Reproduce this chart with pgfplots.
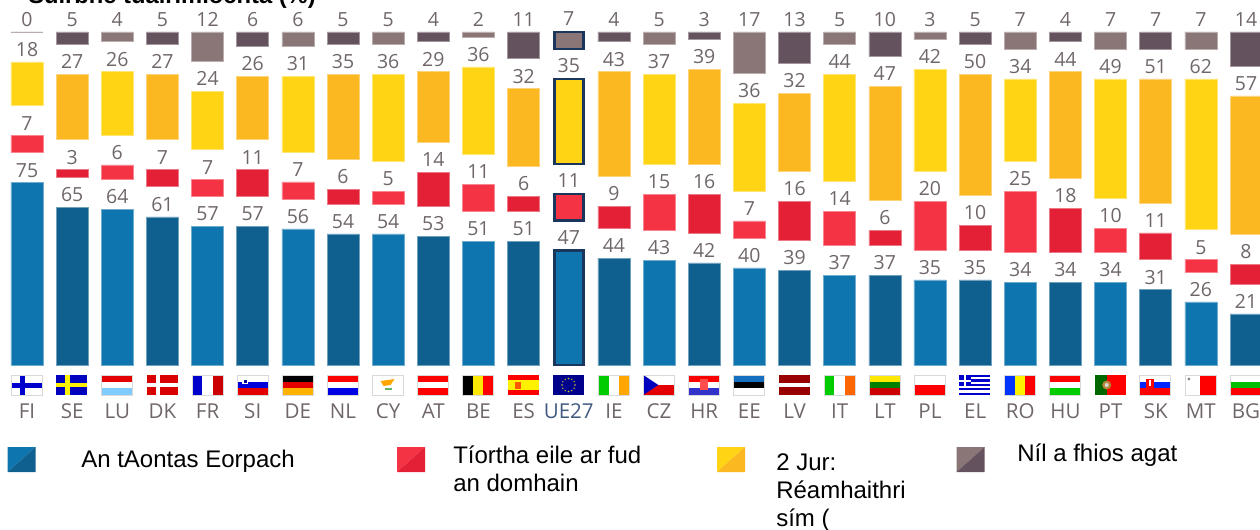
\documentclass[border=0pt]{standalone}
\usepackage{pgfplots}
\usepackage{pgfplotstable}
\usepackage{fontspec}
\pgfplotsset{compat=1.18}
\setmainfont{Liberation Sans}
\newfontfamily\lab{Open Sans}
\definecolor{bluL}{HTML}{0F75AE}\definecolor{bluD}{HTML}{10608F}
\definecolor{redL}{HTML}{F43345}\definecolor{redD}{HTML}{E32035}
\definecolor{yelL}{HTML}{FFD414}\definecolor{yelD}{HTML}{FBB820}
\definecolor{gryL}{HTML}{8A7677}\definecolor{gryD}{HTML}{64535E}
\definecolor{navy}{HTML}{1B365D}\definecolor{txt}{HTML}{6F6668}
\definecolor{tickn}{HTML}{3F5A80}
\pgfplotstableread{
i  blue red yel gry gap
0  75 7  18 0  12.35
2  64 6  26 4  12.35
4  57 7  24 12 12.35
6  56 7  31 6  12.35
8  54 5  36 5  12.35
10 51 11 36 2  12.35
14 43 15 37 5  12.35
16 40 7  36 17 12.35
18 37 14 44 5  12.35
20 35 20 42 3  12.35
22 34 25 34 7  12.35
24 34 10 49 7  12.35
26 26 5  62 7  12.35
}\tableeven
\pgfplotstableread{
i  blue red yel gry gap
1  65 3  27 5  12.35
3  61 7  27 5  12.35
5  57 11 26 6  12.35
7  54 6  35 5  12.35
9  53 14 29 4  12.35
11 51 6  32 11 12.35
13 44 9  43 4  12.35
15 42 16 39 3  12.35
17 39 16 32 13 12.35
19 37 6  47 10 12.35
21 35 10 50 5  12.35
23 34 18 44 4  12.35
25 31 11 51 7  12.35
27 21 8  57 14 12.35
}\tableodd
\pgfplotstableread{
i  blue red yel gry gap
12 47 11 35 7  12.35
}\tableue
\pgfplotsset{
  base/.style={
    at={(0pt,-273.75pt)},anchor=south west,
    scale only axis,width=945pt,height=273.75pt,
    xmin=-0.598,xmax=27.31,ymin=0,ymax=150.2,
    ybar stacked,stacked ignores zero=false,bar width=24pt,
    axis line style={draw=none},tick style={draw=none},
    ytick=\empty,xtick=\empty,
    /pgf/number format/assume math mode=true,
    every node near coord/.append style={font=\lab\fontsize{14.6}{16}\selectfont,text=txt,anchor=south,inner sep=0pt,yshift=\h*0.9113pt+3.9pt},
  },
  vis/.style 2 args={fill=#1,draw=#1!60,line width=0.4pt,visualization depends on={\thisrow{#2}\as\h},nodes near coords},
  eub/.style 2 args={fill=#1,draw=navy,line width=2.1pt,visualization depends on={\thisrow{#2}\as\h},nodes near coords},
  gapb/.style={draw=none,fill=none,forget plot},
}
\newcommand{\frameflag}[1]{\draw[black!15,line width=0.6pt] (#1,375) rectangle +(31,20);}
\newcommand{\hflag}[4]{%
  \fill[#2] (#1,375) rectangle +(31,6.67);\fill[#3] (#1,381.67) rectangle +(31,6.67);\fill[#4] (#1,388.33) rectangle +(31,6.67);\frameflag{#1}}
\newcommand{\vflag}[4]{%
  \fill[#2] (#1,375) rectangle +(10.33,20);\fill[#3] (#1+10.33,375) rectangle +(10.33,20);\fill[#4] (#1+20.67,375) rectangle +(10.33,20);\frameflag{#1}}
\newcommand{\swatch}[3]{%
  \fill[#2] (#1,447) -- (#1+28,447) -- (#1,472) -- cycle;
  \fill[#3] (#1+28,447) -- (#1+28,472) -- (#1,472) -- cycle;}
\begin{document}
\begin{tikzpicture}
\useasboundingbox (0,0) rectangle (945pt,-396.75pt);
\clip (0,0) rectangle (945pt,-396.75pt);
\begin{axis}[base,
  xtick={0,...,27},
  xticklabels={FI,SE,LU,DK,FR,SI,DE,NL,CY,AT,BE,ES,\textcolor{tickn}{UE27},IE,CZ,HR,EE,LV,IT,LT,PL,EL,RO,HU,PT,SK,MT,BG},
  xticklabel style={font=\lab\fontsize{15.4}{17}\selectfont,text=txt,anchor=base,yshift=-40.2pt,inner sep=0pt},
]
\addplot[vis={bluL}{blue}] table[x=i,y=blue]{\tableeven};
\addplot[gapb] table[x=i,y=gap]{\tableeven};
\addplot[vis={redL}{red}] table[x=i,y=red]{\tableeven};
\addplot[gapb] table[x=i,y=gap]{\tableeven};
\addplot[vis={yelL}{yel}] table[x=i,y=yel]{\tableeven};
\addplot[gapb] table[x=i,y=gap]{\tableeven};
\addplot[vis={gryL}{gry}] table[x=i,y=gry]{\tableeven};
\end{axis}
\begin{axis}[base]
\addplot[vis={bluD}{blue}] table[x=i,y=blue]{\tableodd};
\addplot[gapb] table[x=i,y=gap]{\tableodd};
\addplot[vis={redD}{red}] table[x=i,y=red]{\tableodd};
\addplot[gapb] table[x=i,y=gap]{\tableodd};
\addplot[vis={yelD}{yel}] table[x=i,y=yel]{\tableodd};
\addplot[gapb] table[x=i,y=gap]{\tableodd};
\addplot[vis={gryD}{gry}] table[x=i,y=gry]{\tableodd};
\end{axis}
\begin{axis}[base,bar width=21.9pt]
\addplot[eub={bluL}{blue}] table[x=i,y=blue]{\tableue};
\addplot[gapb] table[x=i,y=gap]{\tableue};
\addplot[eub={redL}{red}] table[x=i,y=red]{\tableue};
\addplot[gapb] table[x=i,y=gap]{\tableue};
\addplot[eub={yelL}{yel}] table[x=i,y=yel]{\tableue};
\addplot[gapb] table[x=i,y=gap]{\tableue};
\addplot[eub={gryL}{gry}] table[x=i,y=gry]{\tableue};
\end{axis}
\begin{scope}[x=0.75pt,y=-0.75pt]
\node[anchor=base west,inner sep=0pt,font=\bfseries\fontsize{17.8}{20}\selectfont] at (28,3.5) {Suirbhé tuairimíochta (\%)};
% FI
\begin{scope}[shift={(11.3,0)}]
\fill[white] (0,375) rectangle +(31,20);\fill[blue!80!black] (9,375) rectangle +(5,20);\fill[blue!80!black] (0,382.5) rectangle +(31,5);\frameflag{0}
\end{scope}
% SE
\begin{scope}[shift={(56.4,0)}]
\fill[blue!75!black] (0,375) rectangle +(31,20);\fill[yellow] (9,375) rectangle +(4.5,20);\fill[yellow] (0,382.7) rectangle +(31,4.5);
\end{scope}
\hflag{101.6}{red!90!black}{white}{blue!40!cyan!50!white}
% DK
\begin{scope}[shift={(146.7,0)}]
\fill[red!85!black] (0,375) rectangle +(31,20);\fill[white] (9,375) rectangle +(4,20);\fill[white] (0,383) rectangle +(31,4);
\end{scope}
\vflag{191.9}{blue!80!black}{white}{red!80!black}
\hflag{237}{white}{blue!85!black}{red!90!black}
\fill[white] (242,378) rectangle +(6,6);\fill[blue!60!black] (243.5,379.5) rectangle +(3,3);
\hflag{282.2}{black}{red!90!black}{orange!60!yellow}
\hflag{327.3}{red}{white}{blue!90!black}
% CY
\begin{scope}[shift={(372.5,0)}]
\fill[white] (0,375) rectangle +(31,20);\fill[orange!70!yellow] (8,381) -- (22,379) -- (18,385) -- (11,386) -- cycle;\fill[green!50!black!60] (12,388) rectangle +(7,2);\frameflag{0}
\end{scope}
\hflag{417.6}{red}{white}{red}
\vflag{462.8}{black}{yellow!90!orange}{red}
% ES
\begin{scope}[shift={(507.9,0)}]
\fill[red] (0,375) rectangle +(31,5);\fill[yellow] (0,380) rectangle +(31,10);\fill[red] (0,390) rectangle +(31,5);\fill[orange!70!red] (7,381.5) rectangle +(6,7);
\end{scope}
% EU
\begin{scope}[shift={(553,0)}]
\fill[blue!55!black] (0,375) rectangle +(31,20);
\foreach \a in {0,30,...,330}{\fill[yellow!80!black] ({15.5+6.5*cos(\a)},{385+6.5*sin(\a)}) circle (0.8);}
\end{scope}
\vflag{598.2}{green!80!black}{white}{orange!70!yellow}
% CZ
\begin{scope}[shift={(643.3,0)}]
\fill[white] (0,375) rectangle +(31,10);\fill[red!90!black] (0,385) rectangle +(31,10);\fill[blue!75!black] (0,375) -- (15,385) -- (0,395) -- cycle;\frameflag{0}
\end{scope}
\hflag{688.4}{red}{white}{blue!75!white!80!black}
\fill[red!70!white] (700,379) rectangle +(8,11);
\hflag{733.6}{cyan!50!blue}{black}{white}
% LV
\begin{scope}[shift={(778.7,0)}]
\fill[red!60!black] (0,375) rectangle +(31,8);\fill[white] (0,383) rectangle +(31,4);\fill[red!60!black] (0,387) rectangle +(31,8);
\end{scope}
\vflag{823.9}{green!80!black}{white}{orange!80!red}
\hflag{869}{yellow!90!orange}{green!50!black}{red!80!black}
% PL
\begin{scope}[shift={(914.1,0)}]
\fill[white] (0,375) rectangle +(31,10);\fill[red] (0,385) rectangle +(31,10);\frameflag{0}
\end{scope}
% EL
\begin{scope}[shift={(959.3,0)}]
\fill[white] (0,375) rectangle +(31,20);
\foreach \y in {375,379.4,383.8,388.2,392.6}{\fill[blue!80!black] (0,\y) rectangle +(31,2.2);}
\fill[blue!80!black] (0,375) rectangle +(12,11);\fill[white] (5,375) rectangle +(2,11);\fill[white] (0,379.5) rectangle +(12,2);
\end{scope}
\vflag{1004.4}{blue!80!cyan}{yellow}{red}
\hflag{1049.5}{red}{white}{green!80!black}
% PT
\begin{scope}[shift={(1094.7,0)}]
\fill[green!40!black] (0,375) rectangle +(12,20);\fill[red] (12,375) rectangle +(19,20);\fill[yellow!60!red!70!black] (12,385) circle (4.5);\fill[white!70!gray] (12,385) circle (2);
\end{scope}
\hflag{1139.8}{white}{blue!85!cyan}{red}
\fill[red] (1146,379) rectangle +(8,9);\fill[white] (1149,380) rectangle +(2,6);
% MT
\begin{scope}[shift={(1184.9,0)}]
\fill[white] (0,375) rectangle +(15.5,20);\fill[red] (15.5,375) rectangle +(15.5,20);\fill[gray] (4,379) circle (1.5);\frameflag{0}
\end{scope}
\hflag{1230}{white}{green!75!black}{red}
% legend
\swatch{7.5}{bluL}{bluD}\swatch{397}{redL}{redD}\swatch{717}{yelL}{yelD}\swatch{956.5}{gryL}{gryD}
\begin{scope}[every node/.style={anchor=base west,inner sep=0pt,font=\fontsize{18}{20}\selectfont,text=black}]
\node at (81,467) {An tAontas Eorpach};
\node at (453,463) {Tíortha eile ar fud};
\node at (453,491) {an domhain};
\node at (776,470) {2 Jur:};
\node at (776,498) {Réamhaithri};
\node at (776,526) {sím (};
\node at (1017,461) {Níl a fhios agat};
\end{scope}
\end{scope}
\end{tikzpicture}
\end{document}
